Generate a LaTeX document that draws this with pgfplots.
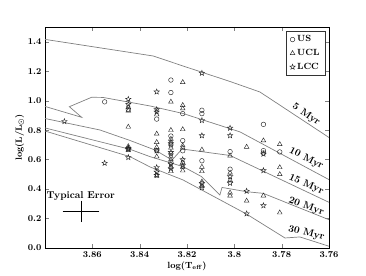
\documentclass[border=0pt]{standalone}
\usepackage{pgfplots}
\pgfplotsset{compat=1.18}
\pgfdeclareplotmark{pstar}{%
\pgfpathmoveto{\pgfpointpolar{90}{\pgfplotmarksize}}%
\pgfpathlineto{\pgfpointpolar{126}{0.42\pgfplotmarksize}}%
\pgfpathlineto{\pgfpointpolar{162}{\pgfplotmarksize}}%
\pgfpathlineto{\pgfpointpolar{198}{0.42\pgfplotmarksize}}%
\pgfpathlineto{\pgfpointpolar{234}{\pgfplotmarksize}}%
\pgfpathlineto{\pgfpointpolar{270}{0.42\pgfplotmarksize}}%
\pgfpathlineto{\pgfpointpolar{306}{\pgfplotmarksize}}%
\pgfpathlineto{\pgfpointpolar{342}{0.42\pgfplotmarksize}}%
\pgfpathlineto{\pgfpointpolar{18}{\pgfplotmarksize}}%
\pgfpathlineto{\pgfpointpolar{54}{0.42\pgfplotmarksize}}%
\pgfpathclose\pgfusepathqstroke}
\begin{document}
\begin{tikzpicture}
\begin{axis}[
  at={(0,0)}, anchor=south west,
  scale only axis, width=284bp, height=221bp,
  xmin=3.76, xmax=3.88, ymin=0, ymax=1.5,
  x dir=reverse,
  xtick={3.76,3.78,3.80,3.82,3.84,3.86},
  ytick={0,0.2,0.4,0.6,0.8,1.0,1.2,1.4},
  tick pos=both, tick align=inside, major tick length=4bp,
  /pgf/number format/assume math mode=true,
  xticklabel style={/pgf/number format/.cd, fixed, precision=2},
  yticklabel style={/pgf/number format/.cd, fixed, fixed zerofill, precision=1},
  tick label style={font=\bfseries\fontsize{9}{10}\selectfont},
  label style={font=\bfseries\boldmath\fontsize{9}{10}\selectfont},
  xlabel={log(T$_{\mathrm{eff}}$)},
  ylabel={log(L/L$_{\odot}$)},
  xlabel style={yshift=3bp},
  ylabel style={yshift=-3bp},
  axis line style={line width=0.7pt},
  legend style={at={(0.988,0.982)}, anchor=north east, draw=black!80,
    font=\bfseries\fontsize{9}{10}\selectfont, inner xsep=4bp, inner ysep=2.5bp, row sep=2bp,
    /tikz/every even column/.append style={column sep=3bp}},
  legend cell align=left,
]
% isochrones
\addplot[gray, line width=0.7pt, forget plot] coordinates {
(3.88,1.416) (3.8342,1.303) (3.8218,1.236) (3.8018,1.13) (3.7892,1.059) (3.76,0.750)};
\addplot[gray, line width=0.7pt, forget plot] coordinates {
(3.88,0.961) (3.8645,0.887) (3.8697,0.959) (3.8603,1.023) (3.8555,1.022) (3.8356,0.964) (3.8217,0.913) (3.7976,0.788) (3.76,0.464)};
\addplot[gray, line width=0.7pt, forget plot] coordinates {
(3.88,0.879) (3.8568,0.801) (3.8441,0.730) (3.8335,0.665) (3.8263,0.597) (3.8221,0.672) (3.8018,0.628) (3.76,0.310)};
\addplot[gray, line width=0.7pt, forget plot] coordinates {
(3.88,0.815) (3.8441,0.670) (3.8356,0.620) (3.8216,0.552) (3.8138,0.484) (3.8061,0.360) (3.8052,0.411) (3.7948,0.382) (3.7878,0.371) (3.76,0.192)};
\addplot[gray, line width=0.7pt, forget plot] coordinates {
(3.88,0.794) (3.8441,0.620) (3.8356,0.550) (3.8217,0.462) (3.7949,0.231) (3.7786,0.068) (3.7723,0.075) (3.76,0.012)};
% data
\addplot[only marks, mark=o, mark size=2.3bp, black!85, mark options={line width=0.45pt}] coordinates {
(3.8548,0.992) (3.8448,0.940) (3.8328,0.875) (3.8268,1.140) (3.8268,1.055) (3.8268,0.760) (3.8268,0.700) (3.8268,0.640) (3.8268,0.580) (3.8328,0.660) (3.8218,0.912) (3.8218,0.729) (3.8218,0.660) (3.8137,0.935) (3.8137,0.912) (3.8137,0.592) (3.8018,0.654) (3.8018,0.535) (3.7877,0.839) (3.7877,0.661) (3.7877,0.645) (3.7808,0.652)};
\addlegendentry{US}
\addplot[only marks, mark=triangle, mark size=2.7bp, black!85, mark options={line width=0.45pt}] coordinates {
(3.8448,0.955) (3.8448,0.932) (3.8448,0.822) (3.8448,0.690) (3.8448,0.680) (3.8448,0.665)
(3.8328,0.905) (3.8328,0.775) (3.8328,0.718) (3.8328,0.684) (3.8328,0.620) (3.8328,0.490)
(3.8268,0.992) (3.8268,0.800) (3.8268,0.740) (3.8268,0.720) (3.8268,0.680) (3.8268,0.620) (3.8268,0.600) (3.8268,0.550) (3.8268,0.520)
(3.8218,1.125) (3.8218,0.969) (3.8218,0.946) (3.8218,0.805) (3.8218,0.695) (3.8218,0.680) (3.8218,0.580) (3.8218,0.550) (3.8218,0.525)
(3.8137,0.667) (3.8137,0.550) (3.8137,0.520) (3.8137,0.450) (3.8137,0.420)
(3.8018,0.626) (3.8018,0.510) (3.8018,0.460) (3.8018,0.375) (3.8018,0.355)
(3.7948,0.686) (3.7948,0.320) (3.7877,0.729) (3.7877,0.355)
(3.7808,0.704) (3.7808,0.547) (3.7808,0.500) (3.7808,0.240)};
\addlegendentry{UCL}
\addplot[only marks, mark=pstar, mark size=2.8bp, black!85, mark options={line width=0.45pt}] coordinates {
(3.8718,0.859) (3.8548,0.576)
(3.8448,1.010) (3.8448,0.975) (3.8448,0.675) (3.8448,0.670) (3.8448,0.615)
(3.8328,1.060) (3.8328,0.940) (3.8328,0.924) (3.8328,0.660) (3.8328,0.547) (3.8328,0.516) (3.8328,0.494)
(3.8268,0.710) (3.8268,0.650) (3.8268,0.570) (3.8268,0.540)
(3.8218,0.600) (3.8218,0.560)
(3.8137,1.187) (3.8137,0.866) (3.8137,0.763) (3.8137,0.440) (3.8137,0.410)
(3.8018,0.814) (3.8018,0.763) (3.8018,0.485) (3.8018,0.440)
(3.7948,0.386) (3.7948,0.233)
(3.7877,0.638) (3.7877,0.526) (3.7877,0.288)};
\addlegendentry{LCC}
% typical error
\addplot[draw=none, mark=none, forget plot,
  error bars/.cd, x dir=both, x explicit, y dir=both, y explicit,
  error bar style={draw=black, line width=0.6pt},
  error mark options={draw=black, mark size=1.6bp, line width=0.6pt}]
  coordinates {(3.8648,0.249) +- (0.00706,0.0625)};
\node[font=\bfseries\fontsize{10}{11}\selectfont] at (axis cs:3.8649,0.356) {Typical Error};
% isochrone labels
\node[font=\bfseries\fontsize{10}{11}\selectfont, rotate=-34] at (axis cs:3.7696,0.905) {5 Myr};
\node[font=\bfseries\fontsize{10}{11}\selectfont, rotate=-27] at (axis cs:3.7696,0.608) {10 Myr};
\node[font=\bfseries\fontsize{10}{11}\selectfont, rotate=-24] at (axis cs:3.7696,0.430) {15 Myr};
\node[font=\bfseries\fontsize{10}{11}\selectfont, rotate=-20] at (axis cs:3.7696,0.283) {20 Myr};
\node[font=\bfseries\fontsize{10}{11}\selectfont, rotate=-14] at (axis cs:3.7696,0.100) {30 Myr};
\end{axis}
\pgfresetboundingbox
\path[use as bounding box] (-45bp,-28bp) rectangle (321bp,248bp);
\end{tikzpicture}
\end{document}
